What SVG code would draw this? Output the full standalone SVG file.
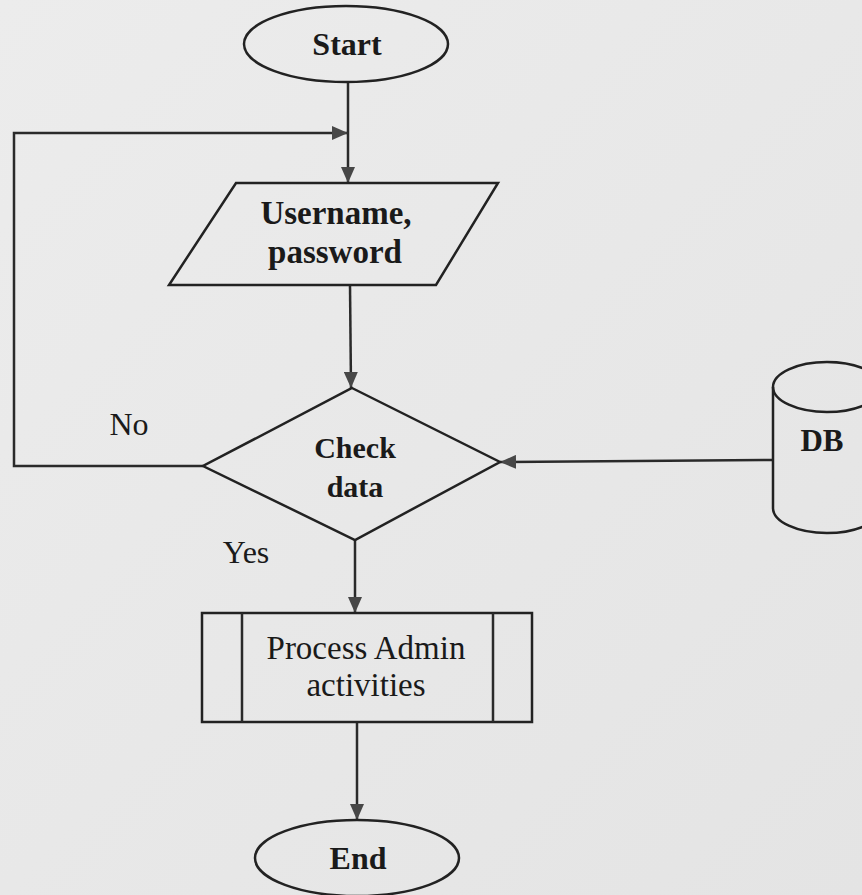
<svg xmlns="http://www.w3.org/2000/svg" width="862" height="895" viewBox="0 0 862 895">
  <defs>
    <marker id="arrow" viewBox="0 0 16 14" refX="16" refY="7" markerWidth="16" markerHeight="14" markerUnits="userSpaceOnUse" orient="auto">
      <path d="M0,0 L16,7 L0,14 Z" fill="#474747"/>
    </marker>
    <linearGradient id="paper" x1="0" y1="0" x2="1" y2="1">
      <stop offset="0" stop-color="#ececec"/>
      <stop offset="1" stop-color="#e4e4e4"/>
    </linearGradient>
  </defs>
  <style>
    .shape { fill: none; stroke: #222; stroke-width: 2.5; }
    .edge { fill: none; stroke: #2a2a2a; stroke-width: 2.5; marker-end: url(#arrow); }
    .line { fill: none; stroke: #2a2a2a; stroke-width: 2.5; }
    .lbl { font-family: "Liberation Serif", "Times New Roman", serif; fill: #1a1a1a; text-anchor: middle; }
    .bold { font-weight: bold; }
  </style>

  <rect width="862" height="895" fill="url(#paper)"/>

  <g id="connectors">
    <line class="edge" x1="348" y1="82" x2="348" y2="183"/>
    <polyline class="edge" points="203,466 14,466 14,133 348,133"/>
    <line class="edge" x1="350" y1="285" x2="351" y2="388"/>
    <line class="edge" x1="773" y1="460" x2="500" y2="462"/>
    <line class="edge" x1="355" y1="540" x2="355" y2="613"/>
    <line class="edge" x1="357" y1="722" x2="357" y2="820"/>
  </g>

  <g id="start">
    <ellipse class="shape" cx="346" cy="44" rx="102" ry="38"/>
    <text class="lbl bold" x="347" y="55" font-size="32">Start</text>
  </g>

  <g id="input">
    <polygon class="shape" points="236,183 498,183 436,285 169,285"/>
    <text class="lbl bold" x="336" y="224" font-size="33">Username,</text>
    <text class="lbl bold" x="335" y="263" font-size="33">password</text>
  </g>

  <g id="check">
    <polygon class="shape" points="352,388 500,462 355,540 203,466"/>
    <text class="lbl bold" x="355" y="458" font-size="30">Check</text>
    <text class="lbl bold" x="355" y="497" font-size="30">data</text>
  </g>

  <g id="db">
    <path class="shape" d="M773,387 L773,508 A54,25 0 0 0 881,508 L881,387"/>
    <ellipse class="shape" cx="827" cy="387" rx="54" ry="25"/>
    <text class="lbl bold" x="822" y="451" font-size="31">DB</text>
  </g>

  <g id="process">
    <rect class="shape" x="202" y="613" width="330" height="109"/>
    <line class="line" x1="242" y1="613" x2="242" y2="722"/>
    <line class="line" x1="493" y1="613" x2="493" y2="722"/>
    <text class="lbl" x="366" y="659" font-size="33">Process Admin</text>
    <text class="lbl" x="366" y="696" font-size="33">activities</text>
  </g>

  <g id="end">
    <ellipse class="shape" cx="357" cy="858" rx="102" ry="38"/>
    <text class="lbl bold" x="358" y="869" font-size="32">End</text>
  </g>

  <g id="labels">
    <text class="lbl" x="129" y="435" font-size="32">No</text>
    <text class="lbl" x="246" y="563" font-size="32">Yes</text>
  </g>
</svg>
